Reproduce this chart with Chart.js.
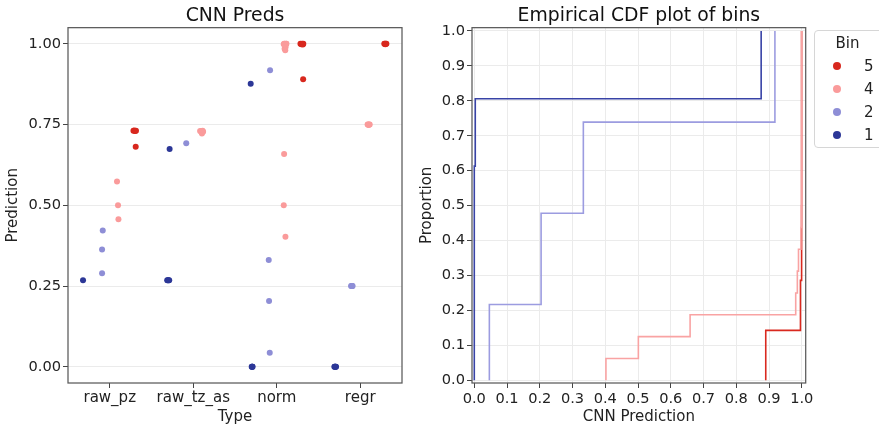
<!DOCTYPE html>
<html>
<head>
<meta charset="utf-8">
<script src="https://cdn.jsdelivr.net/npm/chart.js@4.4.1/dist/chart.umd.min.js"></script>
<style>
html,body{margin:0;padding:0;background:#fff;width:879px;height:428px;overflow:hidden;font-family:"DejaVu Sans",sans-serif;}
#left{position:absolute;left:0;top:0;width:420px;height:428px;}
#right{position:absolute;left:410px;top:0;width:469px;height:428px;}
#legend{position:absolute;left:814px;top:30px;width:90px;height:118px;border:1px solid #d6d6d6;border-radius:4px;background:rgba(255,255,255,0.85);box-sizing:border-box;}
#legend .ttl{position:absolute;left:0;width:65px;top:3px;text-align:center;font-size:15px;line-height:18px;color:#222;}
#legend .mk{position:absolute;width:8px;height:8px;border-radius:50%;}
#legend .lb{position:absolute;font-size:15px;line-height:18px;color:#222;}
</style>
</head>
<body>
<div id="left"><canvas id="c1"></canvas></div>
<div id="right"><canvas id="c2"></canvas></div>
<div id="legend"></div>
<script>
// ---------- data ----------
const types = ['raw_pz', 'raw_tz_as', 'norm', 'regr'];
const hueOrder = ['1', '2', '4', '5'];
const legendOrder = ['5', '4', '2', '1'];
const binColors = { '1': '#2c3797', '2': '#8e8ed6', '4': '#fa9b9b', '5': '#d8281e' };
const lineColors = { '1': '#3843a6', '2': '#9c9ce0', '4': '#f9a3a3', '5': '#d9291f' };

// Strip plot predictions, nested by type (raw_pz, raw_tz_as, norm, regr)
const bin1Pred = [[0.268], [0.268, 0.268, 0.268, 0.268, 0.674], [0.876, 0.0, 0.0, 0.0, 0.0], [0.0, 0.0, 0.0, 0.0, 0.0]];
const bin1Jit  = [[-0.02], [-0.012, -0.004, 0.004, 0.012, 0.017], [-0.012, 0.0, 0.005, 0.01, 0.007], [-0.01, -0.004, 0.0, 0.004, 0.01]];
const bin2Pred = [[0.422, 0.363, 0.290], [0.692], [0.918, 0.331, 0.204, 0.044], [0.25, 0.25, 0.25, 0.25]];
const bin2Jit  = [[0.016, 0.008, 0.008], [0.016], [0.02, 0.004, 0.008, 0.016], [-0.01, -0.003, 0.003, 0.008]];
const bin4Pred = [[0.574, 0.500, 0.457], [0.730, 0.729, 0.726, 0.722, 0.731, 0.728], [1.0, 1.0, 0.999, 1.0, 0.996, 0.99, 0.985, 0.98, 1.0, 0.999, 0.659, 0.500, 0.403], [0.75, 0.75, 0.749, 0.75, 0.75]];
const bin4Jit  = [[-0.013, -0.001, 0.004], [-0.018, -0.008, 0.0, 0.004, 0.012, 0.018], [-0.012, -0.004, 0.004, 0.012, 0.0, 0.006, -0.006, 0.002, 0.016, -0.016, -0.012, -0.016, 0.004], [-0.012, -0.005, 0.0, 0.006, 0.013]];
const bin5Pred = [[0.731, 0.732, 0.730, 0.731, 0.681], [], [1.0, 0.999, 1.0, 0.998, 1.0, 0.890], [1.0, 1.0, 0.999, 1.0, 1.0]];
const bin5Jit  = [[-0.016, -0.006, 0.004, 0.014, 0.011], [], [-0.016, -0.006, 0.004, 0.012, 0.018, 0.016], [-0.012, -0.005, 0.0, 0.006, 0.013]];

// ECDF breakpoints (CNN prediction, proportion) for the "norm" predictions
const cdf1X = [0.0, 0.0, 0.003, 0.876];
const cdf1P = [0.0, 0.613, 0.806, 1.0];
const cdf2X = [0.046, 0.046, 0.204, 0.333, 0.918];
const cdf2P = [0.0, 0.217, 0.478, 0.739, 1.0];
const cdf4X = [0.402, 0.402, 0.501, 0.659, 0.9815, 0.9865, 0.990, 0.9975, 0.9985, 0.9995];
const cdf4P = [0.0, 0.0625, 0.125, 0.1875, 0.25, 0.3125, 0.375, 0.4375, 0.5, 1.0];
const cdf5X = [0.890, 0.890, 0.996, 0.9995];
const cdf5P = [0.0, 0.143, 0.286, 1.0];

const yTicksLeft = [0, 0.25, 0.5, 0.75, 1.0];

// ---------- helpers ----------
Chart.defaults.font.family = '"DejaVu Sans", sans-serif';
Chart.defaults.color = '#222';
Chart.defaults.animation = false;

const predByBin = { '1': [bin1Pred, bin1Jit], '2': [bin2Pred, bin2Jit], '4': [bin4Pred, bin4Jit], '5': [bin5Pred, bin5Jit] };
const cdfByBin = { '1': [cdf1X, cdf1P], '2': [cdf2X, cdf2P], '4': [cdf4X, cdf4P], '5': [cdf5X, cdf5P] };

function dodge(bin) {
  const i = hueOrder.indexOf(bin);
  const w = 0.8 / hueOrder.length;
  return -0.4 + w * (i + 0.5);
}
function stripPoints(bin) {
  const [vals, jit] = predByBin[bin];
  const pts = [];
  vals.forEach((arr, t) => arr.forEach((v, k) => pts.push({ x: t + dodge(bin) + jit[t][k], y: v })));
  return pts;
}

const framePlugin = {
  id: 'frame',
  afterDraw(chart) {
    const a = chart.chartArea, ctx = chart.ctx;
    ctx.save();
    ctx.strokeStyle = '#5a5a5a';
    ctx.lineWidth = 1.25;
    ctx.strokeRect(a.left, a.top, a.right - a.left, a.bottom - a.top);
    ctx.restore();
  }
};

const tickFont = { size: 14.6 };
const catTickFont = { size: 15 };
const titleFont = { size: 15 };
const mainTitleFont = { size: 18.8, weight: 'normal' };

// ---------- left: strip plot ----------
new Chart(document.getElementById('c1'), {
  type: 'scatter',
  data: {
    datasets: hueOrder.map(b => ({
      label: b,
      data: stripPoints(b),
      backgroundColor: binColors[b],
      borderWidth: 0,
      pointRadius: 3,
      pointHoverRadius: 3
    }))
  },
  options: {
    responsive: true,
    maintainAspectRatio: false,
    layout: { padding: { left: 0, right: 18, top: 0, bottom: 0 } },
    plugins: {
      legend: { display: false },
      tooltip: { enabled: false },
      title: { display: true, text: 'CNN Preds', fullSize: false, font: mainTitleFont, color: '#111', padding: { top: 5.1, bottom: 0 } }
    },
    scales: {
      x: {
        type: 'linear', min: -0.5, max: 3.5,
        afterBuildTicks: s => { s.ticks = types.map((t, i) => ({ value: i })); },
        ticks: { font: catTickFont, color: '#222', padding: 1.5, maxRotation: 0, autoSkip: false, callback: v => types[v] },
        grid: { display: true, drawOnChartArea: false, drawTicks: true, tickLength: 5, tickColor: '#444' },
        border: { display: false },
        title: { display: true, text: 'Type', font: titleFont, color: '#222', padding: { top: 0, bottom: 2 } },
        afterFit: s => { s.height = 45; }
      },
      y: {
        type: 'linear', min: -0.05, max: 1.05,
        afterBuildTicks: s => { s.ticks = yTicksLeft.map(v => ({ value: v })); },
        ticks: { font: tickFont, color: '#222', padding: 2, callback: v => v.toFixed(2) },
        grid: { color: '#ebebeb', lineWidth: 1, tickLength: 5, tickColor: '#444' },
        border: { display: false },
        title: { display: true, text: 'Prediction', font: titleFont, color: '#222', padding: { top: 4, bottom: 0 } },
        afterFit: s => { s.width = 68; }
      }
    }
  },
  plugins: [framePlugin]
});

// ---------- right: ECDF ----------
new Chart(document.getElementById('c2'), {
  type: 'line',
  data: {
    datasets: hueOrder.map(b => ({
      label: b,
      data: cdfByBin[b][0].map((x, i) => ({ x: x, y: cdfByBin[b][1][i] })),
      borderColor: lineColors[b],
      borderWidth: 1.6,
      pointRadius: 0,
      stepped: 'before',
      fill: false
    }))
  },
  options: {
    responsive: true,
    maintainAspectRatio: false,
    layout: { padding: { left: 0, right: 73.3, top: 0, bottom: 0 } },
    plugins: {
      legend: { display: false },
      tooltip: { enabled: false },
      title: { display: true, text: 'Empirical CDF plot of bins', fullSize: false, font: mainTitleFont, color: '#111', padding: { top: 5.1, bottom: 0 } }
    },
    scales: {
      x: {
        type: 'linear', min: -0.007, max: 1.012,
        ticks: { stepSize: 0.1, includeBounds: false, font: tickFont, color: '#222', padding: 2, maxRotation: 0, autoSkip: false, callback: v => v.toFixed(1) },
        grid: { color: '#ebebeb', lineWidth: 1, tickLength: 5, tickColor: '#444' },
        border: { display: false },
        title: { display: true, text: 'CNN Prediction', font: titleFont, color: '#222', padding: { top: 0, bottom: 2.3 } },
        afterFit: s => { s.height = 45; }
      },
      y: {
        type: 'linear', min: -0.0077, max: 1.0094,
        ticks: { stepSize: 0.1, includeBounds: false, font: tickFont, color: '#222', padding: 2, callback: v => v.toFixed(1) },
        grid: { color: '#ebebeb', lineWidth: 1, tickLength: 5, tickColor: '#444' },
        border: { display: false },
        title: { display: true, text: 'Proportion', font: titleFont, color: '#222', padding: { top: 8, bottom: 0 } },
        afterFit: s => { s.width = 62; }
      }
    }
  },
  plugins: [framePlugin]
});

// ---------- legend ----------
const lg = document.getElementById('legend');
const ttl = document.createElement('div');
ttl.className = 'ttl';
ttl.textContent = 'Bin';
lg.appendChild(ttl);
legendOrder.forEach((b, i) => {
  const cy = 36 + i * 23;
  const mk = document.createElement('div');
  mk.className = 'mk';
  mk.style.left = (21.7 - 4) + 'px';
  mk.style.top = (cy - 4 - 1) + 'px';
  mk.style.background = binColors[b];
  lg.appendChild(mk);
  const lb = document.createElement('div');
  lb.className = 'lb';
  lb.style.left = '49px';
  lb.style.top = (cy - 9 - 1) + 'px';
  lb.textContent = b;
  lg.appendChild(lb);
});
</script>
</body>
</html>
